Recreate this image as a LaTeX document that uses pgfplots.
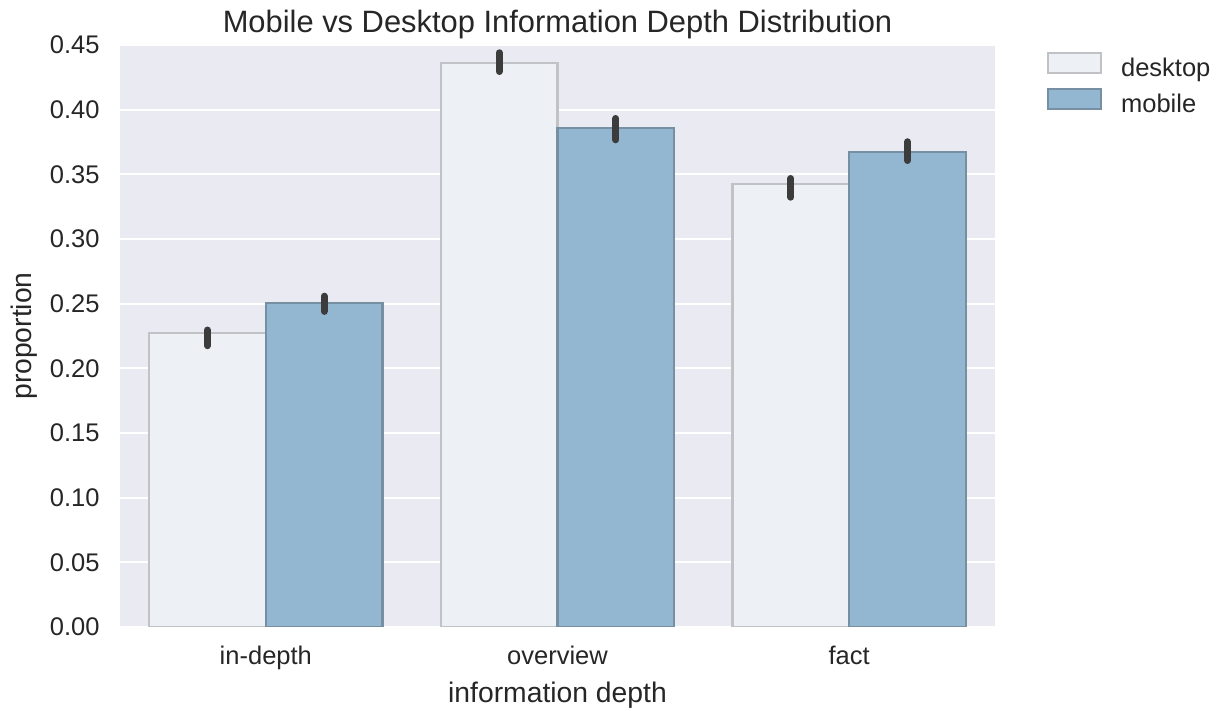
\documentclass[border=0pt]{standalone}
\usepackage{pgfplots}
\pgfplotsset{compat=1.18}
\usepackage{fontspec}
\setmainfont{Liberation Sans}
\definecolor{bgc}{RGB}{234,234,242}
\definecolor{deskfill}{RGB}{237,241,245}
\definecolor{deskedge}{RGB}{192,194,197}
\definecolor{mobfill}{RGB}{147,183,208}
\definecolor{mobedge}{RGB}{118,143,162}
\definecolor{txt}{RGB}{38,38,38}
\definecolor{errc}{RGB}{60,60,60}
\begin{document}
\begin{tikzpicture}
\path[use as bounding box] (-60bp,-42bp) rectangle (552.5bp,313.5bp);
\begin{axis}[
    at={(0,0)}, anchor=south west,
    scale only axis, width=437.5bp, height=291bp,
    axis background/.style={fill=bgc},
    axis line style={draw=none},
    major tick length=0pt,
    ymin=0, ymax=0.45,
    xmin=-0.5, xmax=2.5,
    ytick={0,0.05,...,0.45},
    xtick={0,1,2},
    xticklabels={in-depth,overview,fact},
    ymajorgrids,
    grid style={white, line width=1bp},
    /pgf/number format/fixed,
    /pgf/number format/fixed zerofill,
    /pgf/number format/precision=2,
    /pgf/number format/assume math mode=true,
    ticklabel style={font=\fontsize{12.8}{15}\selectfont, text=txt, inner sep=0pt},
    yticklabel style={anchor=east, xshift=-10bp},
    xticklabel style={anchor=base, yshift=-18.5bp},
    xlabel={information depth},
    ylabel={proportion},
    label style={font=\fontsize{14.2}{17}\selectfont, text=txt, inner sep=0pt},
    xlabel style={at={(axis description cs:0.5,0)}, anchor=base, yshift=-37.5bp},
    ylabel style={at={(axis description cs:0,0.5)}, anchor=base, yshift=44bp},
    every axis title shift=0pt,
    title={Mobile vs Desktop Information Depth Distribution},
    title style={font=\fontsize{15.5}{18}\selectfont, text=txt, inner sep=0pt, at={(0.5,1)}, anchor=base, yshift=6.5bp},
    ybar, bar width=0.4,
    legend style={draw=none, fill=none, inner sep=0pt, outer sep=0pt,
        at={(1,1)}, anchor=north west, xshift=26bp, yshift=-3.5bp,
        font=\fontsize{12.8}{15}\selectfont, text=txt, row sep=2.5bp,
        nodes={inner sep=0pt, text height=9bp, text depth=3bp}},
    legend cell align=left,
    legend image code/.code={\draw[#1] (0bp,-1.25bp) rectangle (26.5bp,8.75bp); \path[draw=none, fill=none] (0bp,0bp) -- (36.5bp,0bp);},
    error bars/y dir=both, error bars/y explicit,
    error bars/error mark=none,
    error bars/error bar style={line width=3.5bp, color=errc, line cap=round},
]
\addplot[bar shift=-0.2, fill=deskfill, draw=deskedge, line width=1.1bp]
    coordinates {(0,0.2273) += (0,0.0023) -= (0,0.0098)
                 (1,0.4363) += (0,0.0077) -= (0,0.0068)
                 (2,0.3425) += (0,0.0043) -= (0,0.0102)};
\addplot[bar shift=0.2, fill=mobfill, draw=mobedge, line width=1.1bp]
    coordinates {(0,0.2503) += (0,0.0055) -= (0,0.0063)
                 (1,0.3856) += (0,0.0076) -= (0,0.0089)
                 (2,0.3675) += (0,0.0077) -= (0,0.0068)};
\legend{desktop,mobile}
\end{axis}
\end{tikzpicture}
\end{document}
